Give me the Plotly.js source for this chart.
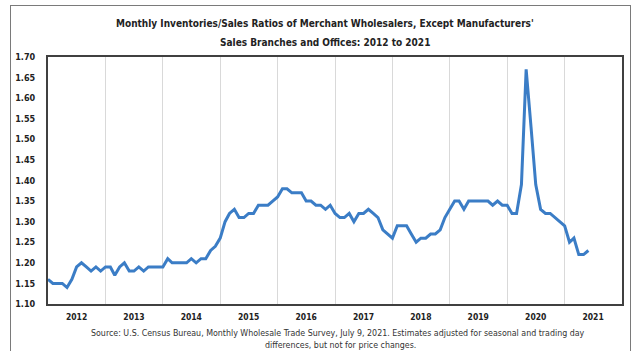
<!DOCTYPE html>
<html>
<head>
<meta charset="utf-8">
<script src="https://cdn.plot.ly/plotly-3.0.1.min.js"></script>
<style>
  html, body { margin: 0; padding: 0; background: #fff; }
  #wrap { position: relative; width: 633px; height: 351px; overflow: hidden; }
  #chart { position: absolute; left: 0; top: 0; width: 633px; height: 351px; }
  #frame { position: absolute; left: 10px; top: 5px; width: 619px; height: 400px;
           border: 1px solid #7a7a7a; pointer-events: none; }
</style>
</head>
<body>
<div id="wrap">
  <div id="chart"></div>
  <div id="frame"></div>
</div>
<script>
// ---- data (monthly I/S ratios, Jan 2012 onward) ----
const startYear = 2012;
const ratios2012 = [1.16, 1.15, 1.15, 1.15, 1.14, 1.16, 1.19, 1.20, 1.19, 1.18, 1.19, 1.18];
const ratios2013 = [1.19, 1.19, 1.17, 1.19, 1.20, 1.18, 1.18, 1.19, 1.18, 1.19, 1.19, 1.19];
const ratios2014 = [1.19, 1.21, 1.20, 1.20, 1.20, 1.20, 1.21, 1.20, 1.21, 1.21, 1.23, 1.24];
const ratios2015 = [1.26, 1.30, 1.32, 1.33, 1.31, 1.31, 1.32, 1.32, 1.34, 1.34, 1.34, 1.35];
const ratios2016 = [1.36, 1.38, 1.38, 1.37, 1.37, 1.37, 1.35, 1.35, 1.34, 1.34, 1.33, 1.34];
const ratios2017 = [1.32, 1.31, 1.31, 1.32, 1.30, 1.32, 1.32, 1.33, 1.32, 1.31, 1.28, 1.27];
const ratios2018 = [1.26, 1.29, 1.29, 1.29, 1.27, 1.25, 1.26, 1.26, 1.27, 1.27, 1.28, 1.31];
const ratios2019 = [1.33, 1.35, 1.35, 1.33, 1.35, 1.35, 1.35, 1.35, 1.35, 1.34, 1.35, 1.34];
const ratios2020 = [1.34, 1.32, 1.32, 1.39, 1.67, 1.53, 1.39, 1.33, 1.32, 1.32, 1.31, 1.30];
const ratios2021 = [1.29, 1.25, 1.26, 1.22, 1.22, 1.23];
const yearLabels = ['2012','2013','2014','2015','2016','2017','2018','2019','2020','2021'];
const yTicks = [1.10, 1.15, 1.20, 1.25, 1.30, 1.35, 1.40, 1.45, 1.50, 1.55, 1.60, 1.65, 1.70];

const titleLine1 = "Monthly Inventories/Sales Ratios of Merchant Wholesalers, Except Manufacturers'";
const titleLine2 = "Sales Branches and Offices: 2012 to 2021";
const sourceLine1 = "Source: U.S. Census Bureau, Monthly Wholesale Trade Survey, July 9, 2021. Estimates adjusted for seasonal and trading day";
const sourceLine2 = "differences, but not for price changes.";

// ---- build series ----
const yearly = [ratios2012, ratios2013, ratios2014, ratios2015, ratios2016,
                ratios2017, ratios2018, ratios2019, ratios2020, ratios2021];
const xs = [], ys = [];
yearly.forEach((arr, k) => {
  arr.forEach((v, m) => {
    const mm = String(m + 1).padStart(2, '0');
    xs.push((startYear + k) + '-' + mm + '-01');
    ys.push(v);
  });
});
const tickVals = yearLabels.map(y => y + '-07-01');

const FONT = "'DejaVu Sans Condensed', 'Liberation Sans Narrow', sans-serif";

const trace = {
  x: xs, y: ys, type: 'scatter', mode: 'lines',
  line: { color: '#3b7dc6', width: 3 },
  hoverinfo: 'x+y'
};

const layout = {
  width: 633, height: 351,
  margin: { l: 48, r: 11, t: 57, b: 47 },
  paper_bgcolor: '#ffffff', plot_bgcolor: '#ffffff',
  showlegend: false,
  font: { family: FONT, color: '#222' },
  xaxis: {
    type: 'date',
    range: ['2012-01-01', '2022-01-01'],
    tickmode: 'array', tickvals: tickVals, ticktext: yearLabels,
    ticks: '', showgrid: false, zeroline: false,
    tickfont: { family: FONT, size: 8.5, color: '#222', weight: 'bold' },
    showline: true, mirror: true, linecolor: '#404040', linewidth: 2,
    minor: { tickmode: 'linear', tick0: '2012-01-01', dtick: 'M12', showgrid: true,
             gridcolor: '#d9d9d9', gridwidth: 1, ticks: '' },
    ticklabelstandoff: 4
  },
  yaxis: {
    range: [1.10, 1.70],
    tickmode: 'array', tickvals: yTicks, tickformat: '.2f',
    ticks: '', showgrid: false, zeroline: false,
    tickfont: { family: FONT, size: 9, color: '#222', weight: 'bold' },
    showline: true, mirror: true, linecolor: '#404040', linewidth: 2,
    ticklabelstandoff: 9
  },
  annotations: [
    { text: titleLine1, xref: 'paper', yref: 'paper', x: (325 - 48) / 574, y: 1 + (57 - 24) / 247,
      xanchor: 'center', yanchor: 'middle', showarrow: false,
      font: { family: FONT, size: 10, color: '#222', weight: 'bold' } },
    { text: titleLine2, xref: 'paper', yref: 'paper', x: (325 - 48) / 574, y: 1 + (57 - 42) / 247,
      xanchor: 'center', yanchor: 'middle', showarrow: false,
      font: { family: FONT, size: 10, color: '#222', weight: 'bold' } },
    { text: sourceLine1, xref: 'paper', yref: 'paper', x: (338 - 48) / 574, y: -(333 - 304) / 247,
      xanchor: 'center', yanchor: 'middle', showarrow: false,
      font: { family: FONT, size: 8.8, color: '#333' } },
    { text: sourceLine2, xref: 'paper', yref: 'paper', x: (340 - 48) / 574, y: -(345 - 304) / 247,
      xanchor: 'center', yanchor: 'middle', showarrow: false,
      font: { family: FONT, size: 8.8, color: '#333' } }
  ]
};

Plotly.newPlot('chart', [trace], layout, { displayModeBar: false, staticPlot: true });
</script>
</body>
</html>
